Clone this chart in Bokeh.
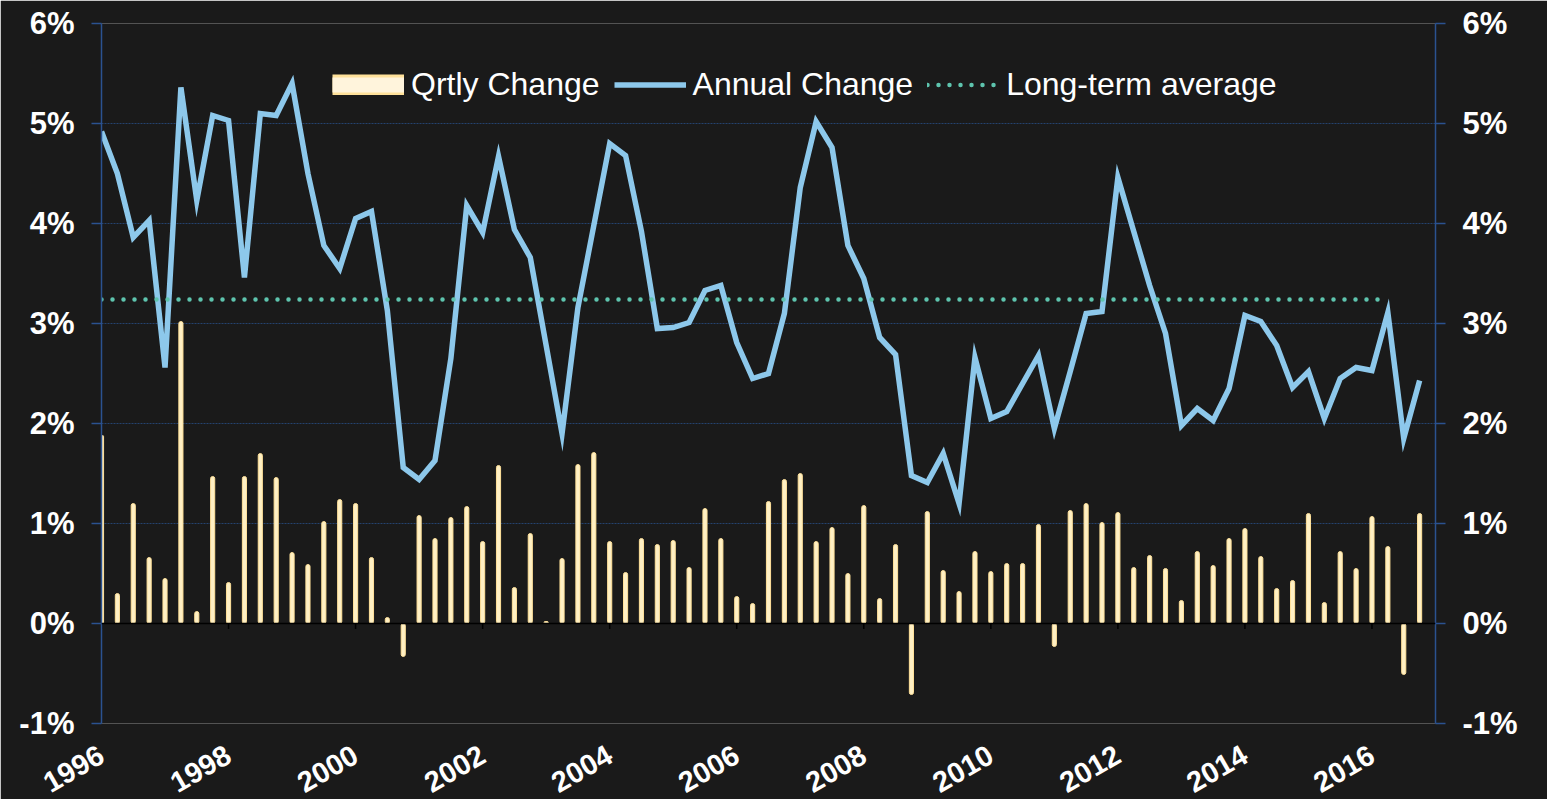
import math
from bokeh.plotting import figure
from bokeh.models import Range1d, FixedTicker, LinearAxis, Legend, LegendItem, Span
from bokeh.embed import file_html
from bokeh.resources import INLINE

# ---------------- data ----------------
years = list(range(1996, 2017))
quarters = [y + q / 4 for y in years for q in range(4)]

qrtly = [1.88, 0.30, 1.20, 0.66, 0.45, 3.02, 0.12, 1.47, 0.41, 1.47,
         1.70, 1.46, 0.71, 0.59, 1.02, 1.24, 1.20, 0.66, 0.06, -0.33,
         1.08, 0.85, 1.06, 1.17, 0.82, 1.58, 0.36, 0.90, 0.02, 0.65,
         1.59, 1.71, 0.82, 0.51, 0.85, 0.79, 0.83, 0.56, 1.15, 0.85,
         0.27, 0.20, 1.22, 1.44, 1.50, 0.82, 0.96, 0.50, 1.18, 0.25,
         0.79, -0.71, 1.12, 0.53, 0.32, 0.72, 0.52, 0.60, 0.60, 0.99,
         -0.23, 1.13, 1.20, 1.01, 1.11, 0.56, 0.68, 0.55, 0.23, 0.72,
         0.58, 0.85, 0.95, 0.67, 0.35, 0.43, 1.10, 0.21, 0.72, 0.55,
         1.07, 0.77, -0.51, 1.10]

annual = [4.92, 4.50, 3.86, 4.03, 2.56, 5.36, 4.23, 5.08, 5.03, 3.46,
          5.10, 5.08, 5.40, 4.50, 3.78, 3.55, 4.05, 4.12, 3.13, 1.56,
          1.44, 1.63, 2.65, 4.18, 3.91, 4.67, 3.94, 3.66, 2.78, 1.90,
          3.16, 3.98, 4.80, 4.68, 3.92, 2.95, 2.96, 3.01, 3.33, 3.38,
          2.81, 2.45, 2.50, 3.10, 4.36, 5.02, 4.76, 3.78, 3.45, 2.86,
          2.69, 1.48, 1.41, 1.70, 1.20, 2.66, 2.05, 2.12, 2.40, 2.68,
          1.95, 2.52, 3.10, 3.12, 4.46, 3.92, 3.38, 2.90, 1.98, 2.15,
          2.03, 2.35, 3.08, 3.02, 2.78, 2.36, 2.52, 2.05, 2.45, 2.56,
          2.53, 3.11, 1.85, 2.43]

long_term_avg = 3.24
avg_quarters = quarters[:82]          # average series runs to 2016 Q2
avg_values = [long_term_avg] * len(avg_quarters)

x_tick_years = years[::2]
x_tick_labels = [str(y) for y in x_tick_years]
y_ticks = [-1, 0, 1, 2, 3, 4, 5, 6]
y_tick_labels = [f"{t}%" for t in y_ticks]

# ---------------- style ----------------
BG = "#1a1a1a"
LINE = "#8dc8eb"
AVG = "#5ec4ae"
BAR_FILL = "#fff0c4"
BAR_LINE = "#ffe19a"
LEG_FILL = "#fff4dc"
GRID = "#24426e"
AXIS = "#2b5290"
FONT = "Liberation Sans"
NAN = float("nan")

p = figure(frame_width=1334, frame_height=700,
           output_backend="svg", toolbar_location=None,
           x_range=Range1d(1996, 2017), y_range=Range1d(-1, 6),
           min_border_left=101, min_border_right=112, min_border_top=23,
           min_border_bottom=70,
           background_fill_color=BG, border_fill_color=BG,
           outline_line_color=None)

# grid
p.xgrid.visible = False
p.ygrid.ticker = FixedTicker(ticks=y_ticks)
p.ygrid.grid_line_color = GRID
p.ygrid.grid_line_dash = "2 1"
p.ygrid.grid_line_width = 1

def style_y(ax):
    ax.ticker = FixedTicker(ticks=y_ticks)
    ax.major_label_overrides = dict(zip(y_ticks, y_tick_labels))
    ax.axis_line_color = AXIS
    ax.axis_line_width = 1.5
    ax.major_tick_line_color = AXIS
    ax.major_tick_line_width = 1.5
    ax.major_tick_out = 10
    ax.major_tick_in = 0
    ax.minor_tick_line_color = None
    ax.major_label_text_color = "white"
    ax.major_label_text_font = FONT
    ax.major_label_text_font_style = "bold"
    ax.major_label_text_font_size = "31px"
    ax.major_label_standoff = 17

# left axis
style_y(p.yaxis[0])

# right axis
ra = LinearAxis()
style_y(ra)
p.add_layout(ra, "right")

# bottom axis (labels only)
xa = p.xaxis[0]
xa.ticker = FixedTicker(ticks=x_tick_years)
xa.major_label_overrides = dict(zip(x_tick_years, x_tick_labels))
xa.axis_line_color = None
xa.major_tick_line_color = None
xa.minor_tick_line_color = None
xa.major_tick_out = 0
xa.major_tick_in = 0
xa.major_label_orientation = math.pi / 6
xa.major_label_text_color = "white"
xa.major_label_text_font = FONT
xa.major_label_text_font_style = "bold"
xa.major_label_text_font_size = "29px"
xa.major_label_standoff = 29

# bars
bars = p.vbar(x=quarters, top=qrtly, bottom=0, width=0.065,
              fill_color=BAR_FILL, line_color=BAR_LINE, line_width=1,
              border_radius=2)

# zero line and its ticks
p.add_layout(Span(location=0, dimension="width", line_color="black",
                  line_width=1.5))
p.segment(x0=x_tick_years, y0=[0] * len(x_tick_years),
          x1=x_tick_years, y1=[-0.055] * len(x_tick_years),
          line_color="black", line_width=1.5)

# annual line
ln = p.line(x=quarters, y=annual, line_color=LINE, line_width=5.5,
            line_join="miter")

# long-term average
av = p.line(x=avg_quarters, y=avg_values, line_color=AVG, line_width=4.5,
            line_dash="0 11", line_cap="round")

# legend swatch for the bars (proxy renderers that draw nothing in the plot)
sw_outer = p.line(x=[NAN], y=[NAN], line_color=BAR_LINE, line_width=21)
sw_inner = p.line(x=[NAN], y=[NAN], line_color=LEG_FILL, line_width=15)

legend = Legend(items=[LegendItem(label="Qrtly Change", renderers=[sw_outer, sw_inner]),
                       LegendItem(label="Annual Change", renderers=[ln]),
                       LegendItem(label="Long-term average", renderers=[av])],
                orientation="horizontal", location=(231, 620),
                glyph_width=72, glyph_height=21, label_standoff=7,
                spacing=14, padding=0, margin=0,
                border_line_color=None, background_fill_alpha=0,
                label_text_color="white", label_text_font=FONT,
                label_text_font_size="32px")
p.add_layout(legend)

open("out.html", "w").write(file_html(p, INLINE))
